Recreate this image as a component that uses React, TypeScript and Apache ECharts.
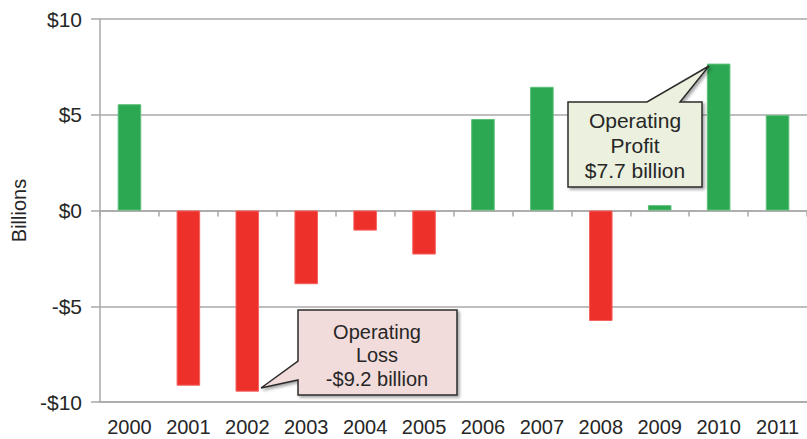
import React, { useEffect, useRef } from "react";
import * as echarts from "echarts";

const years = ["2000", "2001", "2002", "2003", "2004", "2005", "2006", "2007", "2008", "2009", "2010", "2011"];
const operatingIncome = [5.55, -9.15, -9.46, -3.85, -1.05, -2.3, 4.78, 6.46, -5.77, 0.28, 7.67, 4.98];
const yTicks = { min: -10, max: 10, interval: 5 };
const lossLines = ["Operating", "Loss", "-$9.2 billion"];
const profitLines = ["Operating", "Profit", "$7.7 billion"];

const GREEN = "#2da852";
const RED = "#ee302b";
const GRID = "#a8a8a8";
const TEXT = "#262626";
const FONT = '"Liberation Sans", Arial, sans-serif';

function callout(points: number[][], fill: string, lines: string[], cx: number, cy: number, lh: number, size: number) {
  return [
    {
      type: "polygon",
      shape: { points },
      style: {
        fill,
        stroke: "#2b2b2b",
        lineWidth: 1.5,
        shadowBlur: 3,
        shadowOffsetX: 2,
        shadowOffsetY: 2,
        shadowColor: "rgba(0,0,0,0.35)",
      },
      z: 10,
    },
    ...lines.map((t, i) => ({
      type: "text",
      x: cx,
      y: cy + (i - (lines.length - 1) / 2) * lh,
      style: {
        text: t,
        fill: TEXT,
        font: `${size}px ${FONT}`,
        textAlign: "center",
        textVerticalAlign: "middle",
      },
      z: 11,
    })),
  ];
}

export default function App() {
  const ref = useRef<HTMLDivElement>(null);
  useEffect(() => {
    if (!ref.current) return;
    const chart = echarts.init(ref.current, null, { renderer: "svg" });
    chart.setOption({
      animation: false,
      backgroundColor: "#ffffff",
      grid: { left: 100, right: -10, top: 19, bottom: 37, containLabel: false },
      xAxis: [
        {
          type: "category",
          data: years,
          position: "bottom",
          axisLine: { show: true, onZero: false, lineStyle: { color: GRID, width: 1.5 } },
          axisTick: { show: false },
          axisLabel: { color: TEXT, fontSize: 20, fontFamily: FONT, margin: 15, interval: 0, hideOverlap: false },
        },
        {
          type: "category",
          data: years,
          position: "bottom",
          axisLine: { show: true, onZero: true, lineStyle: { color: GRID, width: 1.5 } },
          axisTick: { show: true, length: 6, lineStyle: { color: GRID, width: 1.5 } },
          axisLabel: { show: false },
        },
      ],
      yAxis: {
        type: "value",
        min: yTicks.min,
        max: yTicks.max,
        interval: yTicks.interval,
        name: "Billions",
        nameLocation: "middle",
        nameRotate: 90,
        nameGap: 70,
        nameTextStyle: { color: TEXT, fontSize: 20, fontFamily: FONT },
        axisLine: { show: true, lineStyle: { color: GRID, width: 1.5 } },
        axisTick: { show: true, length: 9, lineStyle: { color: GRID, width: 1.5 } },
        splitLine: { show: true, lineStyle: { color: GRID, width: 1.5 } },
        axisLabel: {
          color: TEXT,
          fontSize: 21,
          fontFamily: FONT,
          margin: 18,
          formatter: (v: number) => (v < 0 ? "-$" : "$") + Math.abs(v),
        },
      },
      series: [
        {
          type: "bar",
          xAxisIndex: 0,
          barWidth: "40%",
          data: operatingIncome.map((v) => ({
            value: v,
            itemStyle: {
              color: v >= 0 ? GREEN : RED,
              borderColor: v >= 0 ? "#5cbf78" : "#f4635f",
              borderWidth: 1,
            },
          })),
        },
      ],
      graphic: [
        ...callout(
          [[298, 310], [457, 310], [457, 395], [298, 395], [298, 380], [261, 388], [298, 361]],
          "#f2dcdb",
          lossLines,
          377,
          355,
          23.5,
          20
        ),
        ...callout(
          [[568, 102], [647, 102], [709, 66], [680, 102], [702, 102], [702, 187], [568, 187]],
          "#ebf1de",
          profitLines,
          635,
          145,
          25,
          21
        ),
      ],
    });
    return () => chart.dispose();
  }, []);
  return <div ref={ref} style={{ position: "absolute", left: 0, top: 0, width: 807, height: 439 }} />;
}
